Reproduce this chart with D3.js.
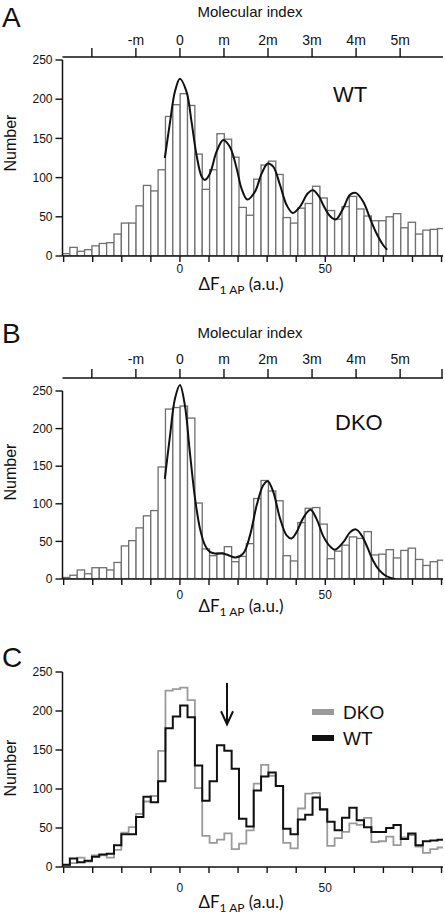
<!DOCTYPE html>
<html><head><meta charset="utf-8">
<script src="https://cdn.jsdelivr.net/npm/d3@7/dist/d3.min.js"></script>
<style>
body{margin:0;background:#fff}
svg{display:block}
text{font-family:"Liberation Sans",Arial,sans-serif;fill:#111}
</style>
</head><body>
<svg id="chart" width="445" height="915"></svg>
<script>
// ---------- data ----------
const wtCounts = [3,11,6,8,13,16,17,28,42,42,64,90,83,110,178,193,207,192,130,85,110,156,149,126,62,52,98,116,121,104,49,42,61,67,89,74,58,47,63,76,60,51,45,45,50,54,36,43,28,33,34,35];
const dkoCounts = [2,5,12,7,15,15,12,22,44,51,68,84,91,149,226,228,230,214,101,40,31,35,43,23,30,47,107,131,117,104,31,24,75,94,95,73,27,37,45,56,54,63,32,33,39,28,38,41,26,18,23,25];
const binStart = -40.4;
const binWidth = 2.53;
const xTickValues = [-40,-30,-20,-10,0,10,20,30,40,50,60,70,80,90];
const xTickLabelValues = [0,50];
const yTickValues = [0,50,100,150,200,250];
const molUnit = 15.15;
const molSteps = [-2,-1,0,1,2,3,4,5];
const molLabels = ["","-m","0","m","2m","3m","4m","5m"];
const wtFit = [[-5.2,125],[-3.4,171],[-1.7,210],[0,226],[2.3,209],[4.0,171],[5.7,129],[7.5,101],[8.6,97],[10.3,105],[12.6,133],[14.9,148],[17.2,139],[19.5,112],[21.2,86],[23.2,72],[25.8,82],[28.1,105],[30.2,118],[32.1,114],[34.4,91],[36.7,65],[38.8,55],[41.3,63],[44,80],[45.8,84],[48,75],[49.3,65],[51.6,51],[53.6,46.5],[56.2,61],[58.5,78],[60.5,80.5],[63.1,69],[65.4,48],[67.6,29],[69.9,14],[71.3,8]];
const dkoFit = [[-5.2,133],[-3.4,191],[-1.7,240],[0,258],[1.7,231],[3.4,169],[5.2,107],[6.9,67],[8.6,45],[10.3,36],[12.5,33.5],[14.5,34],[16.5,32],[19.2,28.5],[21.8,34],[24.1,58],[26.4,98],[28.7,125],[30.2,130],[32.1,116],[34.4,81],[36.7,58],[38.4,54],[40.1,62],[42.4,81],[44.9,92],[47,80],[49.3,57],[51.5,44],[53.3,39],[56.2,49],[58.5,62],[60.5,66],[62.5,58],[64.5,42],[66.5,24],[68.5,12],[70.5,5],[72.5,1.5],[74,0]];
const arrowX = 16.2, arrowFrom = 236, arrowTo = 183;
const legendNames = ["DKO","WT"];

// ---------- layout ----------
const svg = d3.select("#chart");
const X0 = 62.5, X1 = 443;
const x = d3.scaleLinear().domain([-40.4, 90.5]).range([X0, X1]);
const panels = {
  A: {y0:256, y1:60},
  B: {y0:579, y1:391},
  C: {y0:867, y1:672}
};
const barColor = "#6f6f6f", gray = "#9a9a9a";

function yScale(p){ return d3.scaleLinear().domain([0,250]).range([p.y0,p.y1]); }

function clip(id, p){
  svg.append("clipPath").attr("id",id).append("rect")
    .attr("x",X0).attr("y",p.y1-30).attr("width",X1-X0).attr("height",p.y0-p.y1+30);
}

function bottomAxis(p, labelBase, titleBase){
  const g = svg.append("g");
  g.append("line").attr("x1",X0).attr("x2",X1).attr("y1",p.y0).attr("y2",p.y0)
    .attr("stroke","#111").attr("stroke-width",1.5);
  g.selectAll(".t").data(xTickValues).enter().append("line")
    .attr("x1",d=>x(d)).attr("x2",d=>x(d)).attr("y1",p.y0).attr("y2",p.y0+6)
    .attr("stroke","#111").attr("stroke-width",1.4);
  g.selectAll(".l").data(xTickLabelValues).enter().append("text")
    .attr("x",d=>x(d)).attr("y",labelBase).attr("text-anchor","middle")
    .attr("font-size",12).text(d=>d);
  const t = svg.append("text").attr("x",241).attr("y",titleBase).attr("text-anchor","middle")
    .style("font-family","Lato, 'Open Sans', sans-serif").attr("font-size",17);
  t.append("tspan").text("ΔF");
  t.append("tspan").attr("font-size",12).attr("dy",4).text("1 AP");
  t.append("tspan").attr("dy",-4).text(" (a.u.)");
}

function leftAxis(p, labelCenter){
  const y = yScale(p);
  const g = svg.append("g");
  g.append("line").attr("x1",X0).attr("x2",X0).attr("y1",y(0)).attr("y2",y(250))
    .attr("stroke","#111").attr("stroke-width",1.5);
  g.selectAll(".t").data(yTickValues).enter().append("line")
    .attr("x1",X0-7).attr("x2",X0).attr("y1",d=>y(d)).attr("y2",d=>y(d))
    .attr("stroke","#111").attr("stroke-width",1.4);
  g.selectAll(".l").data(yTickValues).enter().append("text")
    .attr("x",X0-10).attr("y",d=>y(d)).attr("dy","0.35em").attr("text-anchor","end")
    .attr("font-size",12).text(d=>d);
  svg.append("text").attr("transform",`translate(16,${labelCenter}) rotate(-90)`)
    .attr("text-anchor","middle").attr("font-size",16).text("Number");
}

function topAxis(lineY, labelBase, titleBase, endTick){
  const g = svg.append("g");
  g.append("line").attr("x1",X0).attr("x2",X1).attr("y1",lineY).attr("y2",lineY)
    .attr("stroke","#111").attr("stroke-width",1.5);
  const vals = molSteps.map(s=>s*molUnit);
  g.selectAll(".t").data(vals).enter().append("line")
    .attr("x1",d=>x(d)).attr("x2",d=>x(d)).attr("y1",lineY).attr("y2",lineY-9)
    .attr("stroke","#111").attr("stroke-width",1.4);
  if(endTick) g.append("line").attr("x1",X1-1).attr("x2",X1-1).attr("y1",lineY).attr("y2",lineY-9)
    .attr("stroke","#111").attr("stroke-width",1.4);
  g.selectAll(".l").data(vals).enter().append("text")
    .attr("x",d=>x(d)).attr("y",labelBase).attr("text-anchor","middle")
    .attr("font-size",14).text((d,i)=>molLabels[i]);
  svg.append("text").attr("x",250).attr("y",titleBase).attr("text-anchor","middle")
    .attr("font-size",15).text("Molecular index");
}

function histogram(counts, p, id){
  const y = yScale(p);
  svg.append("g").attr("clip-path",`url(#${id})`)
    .selectAll("rect").data(counts).enter().append("rect")
    .attr("x",(d,i)=>x(binStart+i*binWidth))
    .attr("width",x(binStart+binWidth)-x(binStart))
    .attr("y",d=>y(d)).attr("height",d=>y(0)-y(d))
    .attr("fill","#fff").attr("stroke",barColor).attr("stroke-width",1.3);
}

function fitCurve(pts, p, id){
  const y = yScale(p);
  svg.append("path").datum(pts).attr("clip-path",`url(#${id})`)
    .attr("d",d3.line().x(d=>x(d[0])).y(d=>y(d[1])).curve(d3.curveCatmullRom.alpha(0.5)))
    .attr("fill","none").attr("stroke","#111").attr("stroke-width",2);
}

function stepLine(counts, p, id, color, w){
  const y = yScale(p);
  const pts = counts.map((v,i)=>[binStart+i*binWidth, v]);
  pts.push([binStart+counts.length*binWidth, counts[counts.length-1]]);
  svg.append("path").datum(pts).attr("clip-path",`url(#${id})`)
    .attr("d",d3.line().x(d=>x(d[0])).y(d=>y(d[1])).curve(d3.curveStepAfter))
    .attr("fill","none").attr("stroke",color).attr("stroke-width",w);
}

// ---------- Panel A ----------
clip("clipA", panels.A);
histogram(wtCounts, panels.A, "clipA");
fitCurve(wtFit, panels.A, "clipA");
leftAxis(panels.A, 143);
bottomAxis(panels.A, 273, 290);
topAxis(57, 45, 17, false);
svg.append("text").attr("x",2).attr("y",27).attr("font-size",28).text("A");
svg.append("text").attr("x",333).attr("y",102).attr("font-size",22).text("WT");

// ---------- Panel B ----------
clip("clipB", panels.B);
histogram(dkoCounts, panels.B, "clipB");
fitCurve(dkoFit, panels.B, "clipB");
leftAxis(panels.B, 472);
bottomAxis(panels.B, 599, 612);
topAxis(378, 364, 338, true);
svg.append("text").attr("x",2).attr("y",343).attr("font-size",28).text("B");
svg.append("text").attr("x",335).attr("y",430).attr("font-size",22).text("DKO");

// ---------- Panel C ----------
clip("clipC", panels.C);
stepLine(dkoCounts, panels.C, "clipC", gray, 1.8);
stepLine(wtCounts, panels.C, "clipC", "#111", 2);
leftAxis(panels.C, 768);
bottomAxis(panels.C, 892, 908);
svg.append("text").attr("x",2).attr("y",667).attr("font-size",28).text("C");

// arrow
const yC = yScale(panels.C);
const ax = x(arrowX);
svg.append("line").attr("x1",ax).attr("x2",ax).attr("y1",yC(arrowFrom)).attr("y2",yC(arrowTo))
  .attr("stroke","#111").attr("stroke-width",2);
svg.append("path").attr("d",`M${ax-6},${yC(arrowTo)-13}L${ax},${yC(arrowTo)}L${ax+6},${yC(arrowTo)-13}`)
  .attr("fill","none").attr("stroke","#111").attr("stroke-width",2);

// legend
const legColors = [gray, "#111"];
legendNames.forEach((n,i)=>{
  const ly = 712 + i*26;
  svg.append("rect").attr("x",312).attr("y",ly-3).attr("width",22).attr("height",6).attr("fill",legColors[i]);
  svg.append("text").attr("x",343).attr("y",ly).attr("dy","0.36em").attr("font-size",19).text(n);
});
</script>
</body></html>
